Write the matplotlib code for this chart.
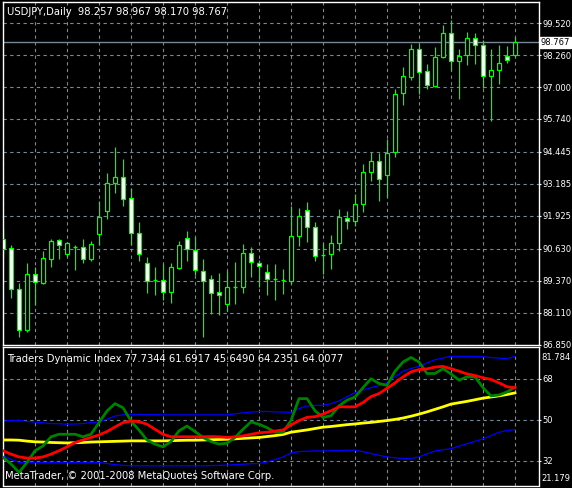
import matplotlib
matplotlib.use("Agg")
import matplotlib.pyplot as plt
import numpy as np

# ---- price data (daily candles) ----
opens  = [91.02,90.66,89.05,87.43,89.64,89.28,90.23,90.98,90.43,90.70,90.70,90.23,91.21,92.12,93.22,93.46,92.63,91.25,90.07,89.40,
          89.40,88.93,89.87,91.06,90.58,89.76,89.44,88.93,88.46,89.13,89.13,90.46,90.07,89.72,89.44,89.40,89.36,91.13,92.16,91.49,
          90.39,90.43,90.86,91.84,91.72,92.39,93.65,94.09,93.535,94.44,96.76,97.39,98.50,97.63,97.04,98.18,99.13,98.03,98.26,98.93,
          98.65,97.43,97.67,98.22,98.257]
highs  = [91.41,90.78,89.28,90.07,89.91,90.54,91.02,91.02,90.90,90.78,91.02,90.94,92.51,93.61,94.64,94.17,93.02,91.69,90.31,89.91,
          90.03,90.07,90.94,91.33,91.09,90.23,89.60,89.68,89.76,90.11,90.82,90.70,90.19,90.03,90.03,89.83,92.31,92.24,92.47,91.69,
          90.86,91.17,92.20,92.12,92.79,93.97,94.44,94.40,94.95,96.92,97.79,98.69,98.69,97.91,98.58,99.44,99.64,98.50,99.17,99.13,
          98.85,98.50,98.66,98.62,98.967]
lows   = [90.31,88.69,87.16,87.35,88.42,89.24,89.91,90.23,90.31,89.80,90.07,90.15,90.78,91.80,92.83,92.31,90.78,90.15,88.89,88.81,
          88.61,88.50,89.83,90.15,89.60,87.16,88.06,88.02,88.18,88.46,88.89,89.52,89.13,88.81,88.61,88.85,89.24,90.74,90.90,90.15,
          89.64,89.83,90.54,91.41,91.53,92.08,93.30,92.51,92.67,94.24,96.29,97.28,96.73,96.92,97.00,98.15,97.67,96.53,97.87,97.91,
          96.96,95.66,97.12,97.94,98.170]
closes = [90.62,89.05,87.43,89.64,89.32,90.27,90.94,90.78,90.86,90.68,90.23,90.82,91.88,93.22,93.46,92.59,91.25,90.43,89.36,89.38,
          88.93,89.91,90.78,90.62,89.80,89.36,88.89,88.81,89.13,89.11,90.46,90.11,89.95,89.44,89.42,89.38,91.13,91.92,91.49,90.35,
          90.37,90.86,91.88,91.72,92.39,93.65,94.09,93.38,94.40,96.73,97.43,98.50,97.59,97.08,98.18,99.13,98.03,98.22,98.93,98.65,
          97.43,97.67,97.95,98.07,98.767]

price_ticks = [99.520, 98.260, 97.000, 95.740, 94.445, 93.185, 91.925, 90.630, 89.370, 88.110, 86.850]
price_labels = ["99.520", "98.260", "97.000", "95.740", "94.445", "93.185", "91.925", "90.630", "89.370", "88.110", "86.850"]
last_price = 98.767

# ---- Traders Dynamic Index ----
rsi_line = [33.5,30.6,26.9,31.3,36.4,38.5,42.5,43.6,43.6,43.6,42.5,43.6,48.7,53.8,57.0,55.2,49.4,45.4,41.1,39.3,
            38.1,40.4,45.1,47.2,44.8,42.2,40.4,39.3,39.7,42.2,45.8,49.0,48.0,46.5,44.5,44.5,49.6,59.2,59.2,53.9,
            51.0,51.7,56.0,58.5,59.9,64.0,67.9,65.8,65.0,71.2,75.2,77.2,75.2,70.2,70.2,72.3,70.0,67.3,68.7,68.7,
            64.0,60.4,60.8,62.1,64.2351]
signal_line = [36.4,34.9,33.7,33.2,33.2,33.7,34.9,36.4,38.1,40.0,41.1,42.2,43.3,44.8,46.8,48.7,49.4,49.1,48.0,45.8,
               43.6,42.5,42.5,42.5,42.5,42.5,42.6,42.5,42.2,42.5,42.9,43.6,44.2,44.5,45.0,45.5,47.7,49.6,51.0,51.3,
               52.4,53.9,55.6,55.6,55.6,57.5,60.1,61.4,63.7,66.1,68.7,70.9,71.9,72.2,73.0,73.3,72.3,71.2,70.0,69.3,
               68.3,67.6,66.1,64.4,64.0077]
base_line = [41.1,41.1,41.0,40.6,40.3,40.2,40.0,39.9,39.8,39.9,40.0,40.2,40.3,40.4,40.5,40.6,40.7,40.7,40.7,40.7,
             40.7,40.8,40.9,41.0,41.0,41.1,41.2,41.3,41.4,41.6,41.8,42.0,42.2,42.6,43.0,43.5,44.5,45.0,45.5,46.1,
             46.7,47.0,47.4,47.8,48.1,48.5,48.8,49.2,49.6,50.1,50.7,51.5,52.4,53.4,54.5,55.6,56.8,57.4,58.0,58.7,
             59.4,59.9,60.4,61.0,61.6917]
upper_band = [49.4,49.6,49.7,49.2,48.9,48.6,48.3,48.2,48.0,48.1,48.3,48.7,49.0,50.2,51.6,52.1,52.3,52.3,52.2,52.2,
              52.1,52.1,52.1,52.1,52.1,52.1,52.1,52.1,52.1,52.5,53.0,53.3,53.5,53.6,53.4,53.3,53.2,54.8,56.0,56.2,
              56.3,57.0,58.2,60.0,61.8,63.0,64.0,65.0,66.1,68.8,71.2,72.4,73.3,74.8,76.2,77.0,77.7,77.7,77.7,77.6,
              77.5,77.2,76.9,76.7,77.7344]
lower_band = [34.2,32.6,31.3,31.3,31.3,31.3,31.3,31.3,31.3,31.3,31.3,31.3,31.3,30.8,30.3,30.0,29.8,29.8,29.8,29.8,
              29.8,29.8,29.8,29.8,29.8,29.8,29.9,30.0,30.1,30.3,30.5,30.7,30.8,31.5,32.5,33.7,35.4,36.0,36.2,36.3,
              36.3,36.4,36.5,36.6,36.6,36.0,35.2,34.4,33.7,33.3,33.0,33.0,33.7,35.0,36.3,36.8,37.3,38.4,39.5,40.5,
              41.6,43.0,44.5,45.2,45.649]
ind_ticks = [68, 50, 32]

GRID = "#778899"
GREEN = "#00ff00"
FS = 6.0
W, H = 572, 488
fig = plt.figure(figsize=(W/100, H/100), dpi=100, facecolor="black")
plt.rcParams["font.family"] = ["DejaVu Sans"]

def px_axes(x0, y0, x1, y1):
    return fig.add_axes([x0/W, 1 - y1/H, (x1-x0)/W, (y1-y0)/H])

ax = px_axes(2.7, 2, 539, 345)
ax2 = px_axes(2.7, 347, 539, 485.5)

n = len(opens)
x = np.arange(n)
xlim = (-0.04, 67.0)

for a in (ax, ax2):
    a.set_facecolor("black")
    for s in a.spines.values():
        s.set_color("white")
        s.set_linewidth(1)
    a.set_xlim(*xlim)
    a.set_xticks([])
    for gx in range(0, n, 4):
        a.axvline(gx, color=GRID, lw=0.8, ls=(0, (3, 3)), zorder=0)
    a.yaxis.tick_right()
    a.tick_params(axis="y", colors="white", labelsize=FS, length=1.5, width=0.8, pad=0.8, labelcolor="white")

# --- main candles ---
ax.set_ylim(86.841, 100.347)
ax.set_yticks(price_ticks)
ax.set_yticklabels(price_labels)
for t in price_ticks:
    ax.axhline(t, color=GRID, lw=0.8, ls=(0, (3, 3)), zorder=0)
ax.axhline(last_price, color=GRID, lw=1, zorder=1)
ax.vlines(x, lows, highs, color=GREEN, lw=0.9, zorder=2)
for i in range(n):
    o, c = opens[i], closes[i]
    if abs(c - o) < 0.03:
        ax.hlines(o, i - 0.3, i + 0.3, color=GREEN, lw=1.0, zorder=3)
    else:
        fill = "black" if c > o else "white"
        ax.bar(i, abs(c - o), bottom=min(o, c), width=0.62, color=fill,
               edgecolor=GREEN, linewidth=0.9, zorder=3)
ax.text(1.003, last_price, "98.767", transform=ax.get_yaxis_transform(), color="black",
        fontsize=FS, va="center", ha="left",
        bbox=dict(boxstyle="square,pad=0.12", fc="white", ec="white"), zorder=5, clip_on=False)
ax.text(0.008, 0.985, "USDJPY,Daily  98.257 98.967 98.170 98.767", transform=ax.transAxes,
        color="white", fontsize=7.2, va="top", ha="left")

# --- indicator ---
ax2.set_ylim(21.179, 81.784)
ax2.set_yticks(ind_ticks)
ax2.set_yticklabels([str(t) for t in ind_ticks])
for t in ind_ticks:
    ax2.axhline(t, color=GRID, lw=0.8, ls=(0, (3, 3)), zorder=0)
ax2.plot(x, upper_band, color="#0000ff", lw=0.9, zorder=2)
ax2.plot(x, lower_band, color="#0000ff", lw=0.9, zorder=2)
ax2.plot(x, base_line, color="#ffff00", lw=2.0, zorder=3)
ax2.plot(x, rsi_line, color="#008000", lw=2.0, zorder=4)
ax2.plot(x, signal_line, color="#ff0000", lw=2.0, zorder=5)
ax2.text(1.004, 0.955, "81.784", transform=ax2.transAxes, color="white", fontsize=FS, va="top", ha="left")
ax2.text(1.004, 0.02, "21.179", transform=ax2.transAxes, color="white", fontsize=FS, va="bottom", ha="left")
ax2.text(0.008, 0.95, "Traders Dynamic Index 77.7344 61.6917 45.6490 64.2351 64.0077",
         transform=ax2.transAxes, color="white", fontsize=7.2, va="top", ha="left")
ax2.text(0.004, 0.03, "MetaTrader, \u00a9 2001-2008 MetaQuotes Software Corp.",
         transform=ax2.transAxes, color="white", fontsize=7.2, va="bottom", ha="left")

fig.savefig("out.png", dpi=100, facecolor="black")
